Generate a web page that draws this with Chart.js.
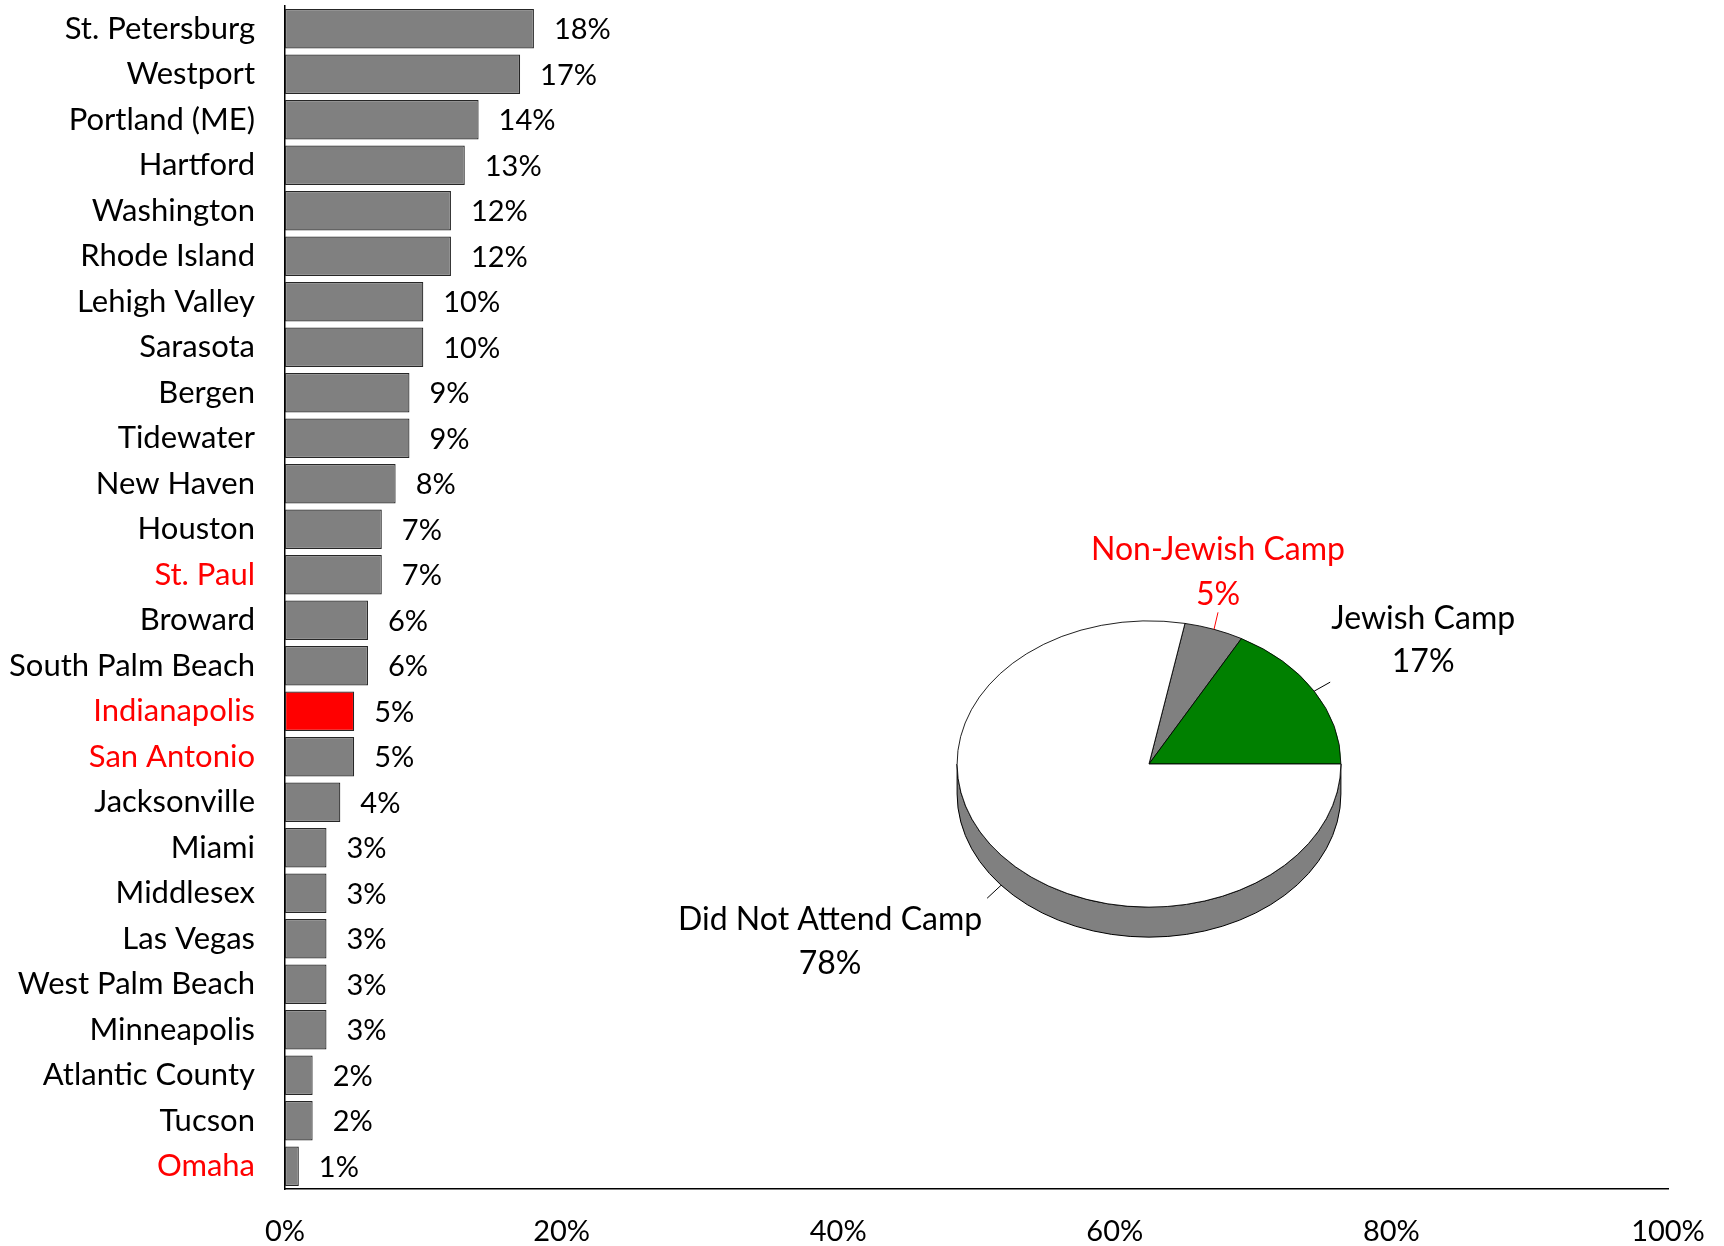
<!DOCTYPE html>
<html lang="en">
<head>
  <meta charset="UTF-8" />
  <title>Camp attendance</title>
  <style>
    body {
      margin: 0;
      background: #fff;
    }
    #wrap {
      position: relative;
      width: 1724px;
      height: 1246px;
    }
    #wrap canvas {
      position: absolute;
      left: 0;
      top: 0;
    }
  </style>
</head>
<body>
  <div id="wrap">
    <canvas id="barras" width="1724" height="1246"></canvas>
    <canvas id="torta" width="1724" height="1246"></canvas>
  </div>

  <script src="https://cdn.jsdelivr.net/npm/chart.js"></script>
  <script>
    const communities = ["St. Petersburg", "Westport", "Portland (ME)", "Hartford", "Washington",
      "Rhode Island", "Lehigh Valley", "Sarasota", "Bergen", "Tidewater", "New Haven", "Houston",
      "St. Paul", "Broward", "South Palm Beach", "Indianapolis", "San Antonio", "Jacksonville",
      "Miami", "Middlesex", "Las Vegas", "West Palm Beach", "Minneapolis", "Atlantic County",
      "Tucson", "Omaha"];
    const percentages = [18, 17, 14, 13, 12, 12, 10, 10, 9, 9, 8, 7, 7, 6, 6, 5, 5, 4, 3, 3, 3, 3, 3, 2, 2, 1];
    const highlighted = ["St. Paul", "Indianapolis", "San Antonio", "Omaha"];
    const xTicks = [0, 20, 40, 60, 80, 100];

    const pieLabels = ["Non-Jewish Camp", "Jewish Camp", "Did Not Attend Camp"];
    const pieValues = [5, 17, 78];
    const pieColors = ["#808080", "#008000", "#ffffff"];
    const pieTextColors = ["#ff0000", "#000000", "#000000"];

    const FONT = "Lato, 'Open Sans', sans-serif";
    const FS_NUM = 29;
    const FS_CAT = 31;
    const FS_PIE = 32;

    // etiquetas de valor a la derecha de cada barra
    const barValues = {
      id: "barValues",
      afterDatasetsDraw(chart) {
        const ctx = chart.ctx;
        ctx.save();
        ctx.font = FS_NUM + "px " + FONT;
        ctx.fillStyle = "#000";
        ctx.textBaseline = "middle";
        ctx.textAlign = "left";
        chart.getDatasetMeta(0).data.forEach((bar, i) => {
          ctx.fillText(percentages[i] + "%", bar.x + 20, bar.y + 1);
        });
        ctx.restore();
      }
    };

    new Chart(document.getElementById("barras"), {
      type: "bar",
      data: {
        labels: communities,
        datasets: [{
          data: percentages,
          backgroundColor: communities.map(c => c === "Indianapolis" ? "#ff0000" : "#808080"),
          borderColor: "#262626",
          borderWidth: 1.2,
          borderSkipped: false,
          barPercentage: 0.87,
          categoryPercentage: 1
        }]
      },
      options: {
        indexAxis: "y",
        responsive: false,
        animation: false,
        layout: { padding: { top: 6, right: 56, left: 0, bottom: 0 } },
        plugins: { legend: { display: false }, tooltip: { enabled: false } },
        scales: {
          x: {
            min: 0,
            max: 100,
            afterBuildTicks: s => { s.ticks = xTicks.map(v => ({ value: v })); },
            afterFit: s => { s.height = 57; s.paddingLeft = 0; s.paddingRight = 0; },
            grid: { display: false, drawTicks: false },
            border: { color: "#000", width: 1.5 },
            ticks: {
              padding: 25,
              color: "#000",
              font: { family: FONT, size: FS_NUM },
              callback: v => v + "%"
            }
          },
          y: {
            afterFit: s => { s.width = 285; s.paddingTop = 0; s.paddingBottom = 0; },
            grid: { display: false, drawTicks: false },
            border: { color: "#000", width: 1.5 },
            ticks: {
              padding: 30,
              autoSkip: false,
              color: c => highlighted.includes(communities[c.index]) ? "#ff0000" : "#000",
              font: { family: FONT, size: FS_CAT }
            }
          }
        }
      },
      plugins: [barValues]
    });

    // pastel con efecto 3D (elipse + pared lateral)
    const SQUASH = 143.5 / 192.4;
    const DEPTH = 30;
    const labelOffsets = [
      { lead: [4, -17], name: [4, -80], pct: [4, -35] },
      { lead: [16, -9], name: [109, -72], pct: [109, -29] },
      { lead: [-14, 13], name: [-171, 34], pct: [-171, 78] }
    ];

    const pie3d = {
      id: "pie3d",
      beforeDatasetsDraw(chart) {
        const arc = chart.getDatasetMeta(0).data[0];
        const ctx = chart.ctx;
        const cx = arc.x, cy = arc.y, rx = arc.outerRadius, ry = rx * SQUASH;
        ctx.save();
        ctx.beginPath();
        ctx.ellipse(cx, cy + DEPTH, rx, ry, 0, 0, Math.PI);
        ctx.lineTo(cx - rx, cy);
        ctx.ellipse(cx, cy, rx, ry, 0, Math.PI, 0, true);
        ctx.closePath();
        ctx.fillStyle = "#808080";
        ctx.fill();
        ctx.strokeStyle = "#000";
        ctx.lineWidth = 1;
        ctx.stroke();
        ctx.restore();

        ctx.save();
        ctx.translate(cx, cy);
        ctx.scale(1, SQUASH);
        ctx.translate(-cx, -cy);
      },
      afterDatasetsDraw(chart) {
        const ctx = chart.ctx;
        ctx.restore();
        ctx.save();
        ctx.font = FS_PIE + "px " + FONT;
        ctx.textAlign = "center";
        ctx.textBaseline = "middle";
        chart.getDatasetMeta(0).data.forEach((arc, i) => {
          const mid = (arc.startAngle + arc.endAngle) / 2;
          const rx = arc.outerRadius, ry = rx * SQUASH;
          const ax = arc.x + rx * Math.cos(mid);
          const ay = arc.y + ry * Math.sin(mid) + (Math.sin(mid) > 0.3 ? DEPTH : 0);
          const o = labelOffsets[i];
          ctx.strokeStyle = pieTextColors[i];
          ctx.lineWidth = 1;
          ctx.beginPath();
          ctx.moveTo(ax, ay);
          ctx.lineTo(ax + o.lead[0], ay + o.lead[1]);
          ctx.stroke();
          ctx.fillStyle = pieTextColors[i];
          ctx.fillText(pieLabels[i], ax + o.name[0], ay + o.name[1]);
          ctx.fillText(pieValues[i] + "%", ax + o.pct[0], ay + o.pct[1]);
        });
        ctx.restore();
      }
    };

    new Chart(document.getElementById("torta"), {
      type: "pie",
      data: {
        labels: pieLabels,
        datasets: [{
          data: pieValues,
          backgroundColor: pieColors,
          borderColor: "#000",
          borderWidth: 1
        }]
      },
      options: {
        responsive: false,
        animation: false,
        rotation: 10.8,
        layout: { padding: { left: 956.6, right: 382.6, top: 571.6, bottom: 289.6 } },
        plugins: { legend: { display: false }, tooltip: { enabled: false } }
      },
      plugins: [pie3d]
    });
  </script>
</body>
</html>
